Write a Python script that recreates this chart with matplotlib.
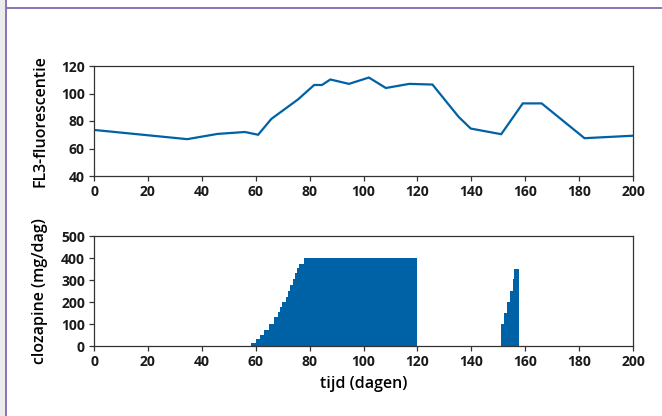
import matplotlib.pyplot as plt
from matplotlib.lines import Line2D
from matplotlib.patches import Rectangle

BLUE = '#0062a6'
PURPLE = '#8a72b4'
FONT = 'Open Sans'

# FL3-fluorescentie over time
fl3_days = [0, 34.6, 45.8, 56, 60.9, 65.8, 75.7, 81.7, 84.6, 87.7, 94.6, 102,
            108.3, 117, 125.6, 135.3, 139.8, 151.1, 159.1, 166.1, 182, 200]
fl3_values = [73.5, 66.8, 70.6, 72.0, 70.0, 81.5, 95.7, 106.2, 106.2, 110.2, 107.0,
              111.6, 104.0, 107.0, 106.5, 83.0, 74.5, 70.4, 92.8, 92.8, 67.5, 69.3]

# clozapine dose (mg/dag), step edges and dose per step
dose_edges = [58.3, 60.0, 61.6, 63.0, 65.1, 66.8, 68.1, 69.1, 69.9, 71.1, 71.9,
              72.8, 73.7, 74.7, 75.5, 76.2, 77.9, 119.7,
              151.0, 152.2, 153.2, 154.2, 155.3, 156.0, 157.6]
dose_values = [15, 30, 51, 75, 100, 130, 154, 176, 200, 224, 248, 279, 304, 330,
               354, 375, 400, 0,
               100, 150, 200, 250, 303, 352]

x_ticks = [0, 20, 40, 60, 80, 100, 120, 140, 160, 180, 200]
fl3_ticks = [40, 60, 80, 100, 120]
dose_ticks = [0, 100, 200, 300, 400, 500]

plt.rcParams['font.family'] = [FONT, 'DejaVu Sans']
plt.rcParams['font.weight'] = 'bold'
plt.rcParams['font.size'] = 10

W, H = 662, 416
fig = plt.figure(figsize=(W / 100, H / 100), dpi=100)

# page decoration: grey margin and purple rules
fig.patches.append(Rectangle((0, 0), 5 / W, 1, transform=fig.transFigure,
                             facecolor='#ececec', edgecolor='none'))
fig.lines.append(Line2D([6 / W, 6 / W], [0, 1], transform=fig.transFigure,
                        color=PURPLE, lw=1.4))
fig.lines.append(Line2D([6 / W, 1], [1 - 7.5 / H, 1 - 7.5 / H], transform=fig.transFigure,
                        color=PURPLE, lw=1.4))

left, width, height = 94 / W, 539 / W, 110 / H
ax1 = fig.add_axes([left, 1 - 176 / H, width, height])
ax2 = fig.add_axes([left, 1 - 346 / H, width, height])

label_kw = dict(fontweight='semibold', fontsize=11.5)

ax1.plot(fl3_days, fl3_values, color=BLUE, lw=1.6, solid_joinstyle='miter')
ax1.set_ylim(40, 120)
ax1.set_yticks(fl3_ticks)
ax1.set_ylabel('FL3-fluorescentie', **label_kw)

ax2.stairs(dose_values, dose_edges, fill=True, color=BLUE, lw=0)
ax2.set_ylim(0, 500)
ax2.set_yticks(dose_ticks)
ax2.set_ylabel('clozapine (mg/dag)', **label_kw)
ax2.set_xlabel('tijd (dagen)', **label_kw)

for ax in (ax1, ax2):
    ax.set_xlim(0, 200)
    ax.set_xticks(x_ticks)
    for s in ax.spines.values():
        s.set_color('#333333')
        s.set_linewidth(0.9)
    ax.tick_params(axis='both', direction='out', length=3.5, width=0.9,
                   color='#333333', pad=3, labelcolor='#1a1a1a', labelsize=10)
    for lab in ax.get_xticklabels() + ax.get_yticklabels():
        lab.set_fontweight('bold')
    ax.yaxis.set_label_coords(-0.085, 0.5)

ax2.xaxis.set_label_coords(0.5, -0.27)

fig.savefig('out.png', dpi=100)
